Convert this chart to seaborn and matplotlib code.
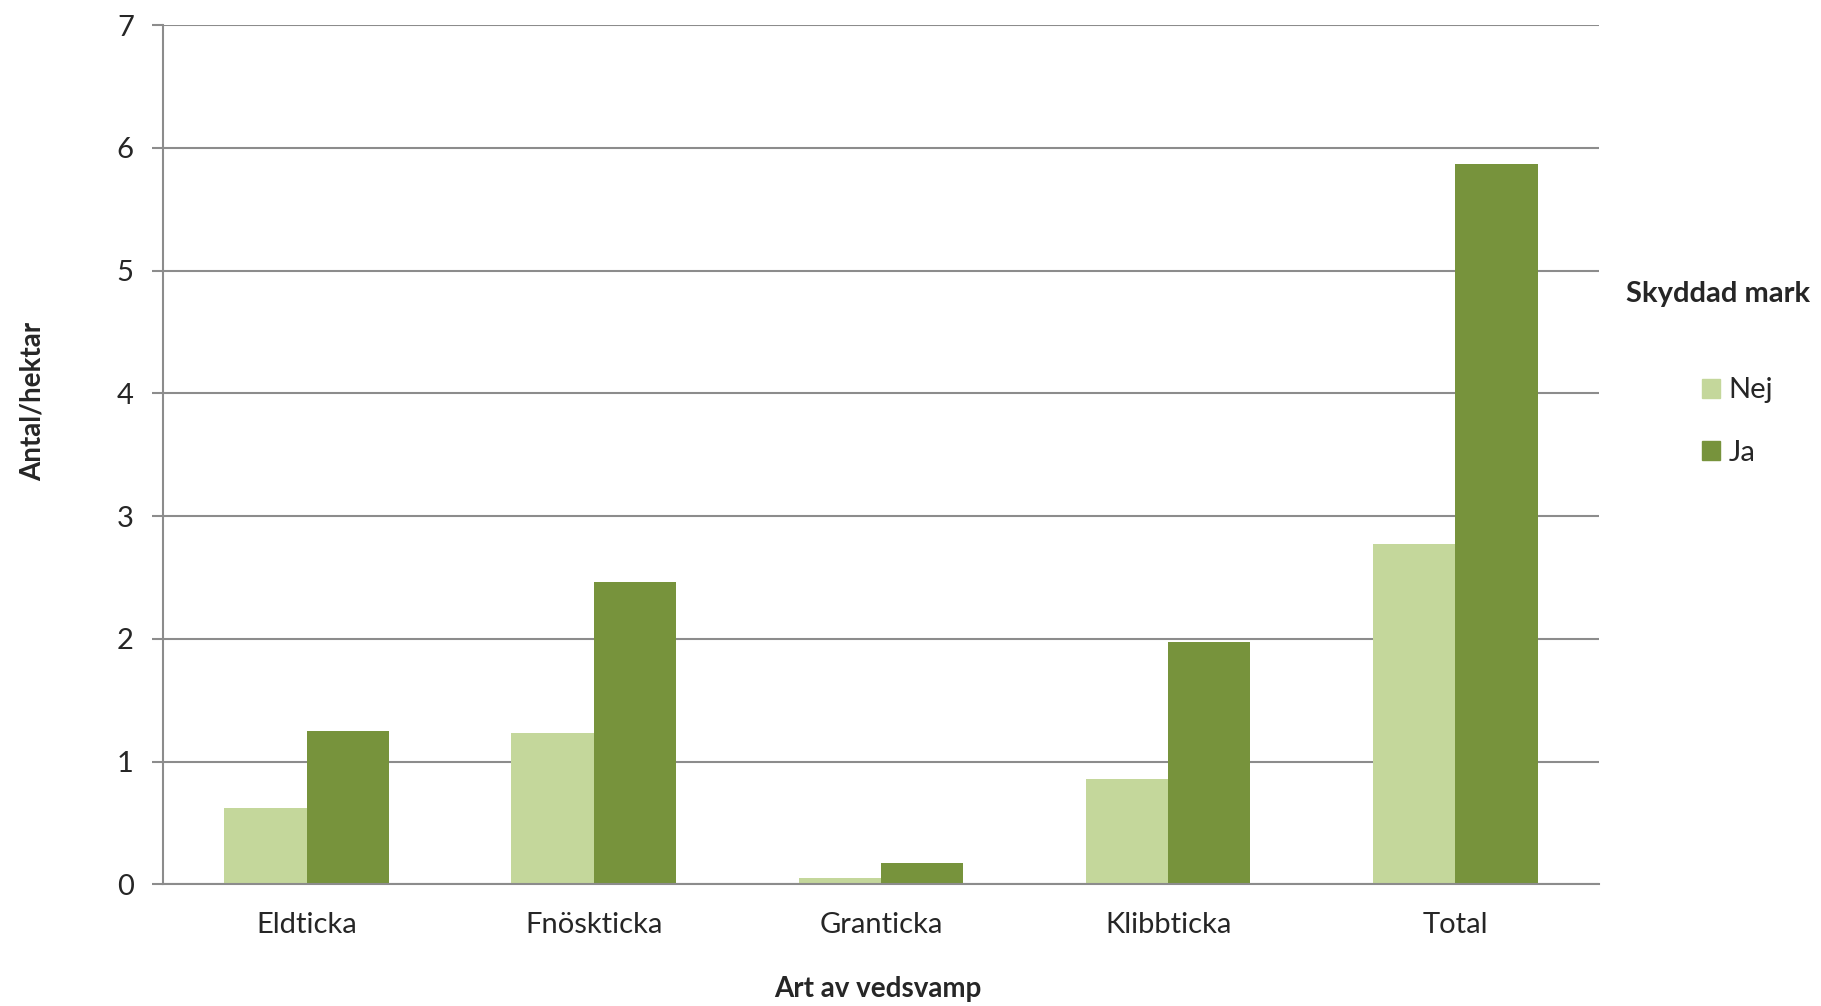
import pandas as pd
import matplotlib.pyplot as plt
import seaborn as sns

# Data
species = ['Eldticka', 'Fnöskticka', 'Granticka', 'Klibbticka', 'Total']
nej_values = [0.62, 1.23, 0.05, 0.86, 2.77]
ja_values = [1.25, 2.46, 0.17, 1.97, 5.87]
hue_labels = ['Nej', 'Ja']
y_ticks = [0, 1, 2, 3, 4, 5, 6, 7]

colors = {'Nej': '#C4D79B', 'Ja': '#77933C'}
grid_col = '#8C8C8C'


def build_frame():
    rows = []
    for s, n, j in zip(species, nej_values, ja_values):
        rows.append({'Art': s, 'Skyddad mark': 'Nej', 'Antal': n})
        rows.append({'Art': s, 'Skyddad mark': 'Ja', 'Antal': j})
    return pd.DataFrame(rows)


def main():
    sns.set_style('white')
    plt.rcParams['font.family'] = ['Lato', 'DejaVu Sans']

    df = build_frame()
    fig = plt.figure(figsize=(18.21, 10.06), dpi=100)
    ax = fig.add_axes([0.0895, 0.121, 0.7885, 0.854])

    sns.barplot(data=df, x='Art', y='Antal', hue='Skyddad mark',
                hue_order=hue_labels, palette=colors, width=0.573,
                saturation=1, linewidth=0, errorbar=None, ax=ax, legend=False)

    ax.set_xlim(-0.5, len(species) - 0.5)
    ax.set_ylim(0, 7)
    ax.set_yticks(y_ticks)
    ax.set_yticklabels([str(t) for t in y_ticks], fontsize=21)
    ax.yaxis.grid(True, color=grid_col, linewidth=1.5)
    ax.set_axisbelow(True)

    # category boundary ticks on the x axis
    ax.set_xticks([i - 0.5 for i in range(len(species) + 1)], minor=True)
    ax.tick_params(axis='x', which='major', length=0, pad=20, labelsize=21)
    ax.tick_params(axis='x', which='minor', length=9, width=1.5, color=grid_col,
                   direction='out')
    ax.tick_params(axis='y', length=8, width=1.5, color=grid_col, pad=13,
                   direction='out', left=True)

    for side in ['top', 'right']:
        ax.spines[side].set_visible(False)
    for side in ['left', 'bottom']:
        ax.spines[side].set_color(grid_col)
        ax.spines[side].set_linewidth(1.5)

    ax.set_xlabel('')
    ax.set_ylabel('')
    fig.text(0.482, 0.017, 'Art av vedsvamp', fontsize=20, fontweight='bold',
             ha='center', va='center')
    fig.text(0.018, 0.601, 'Antal/hektar', fontsize=20, fontweight='bold',
             ha='center', va='center', rotation=90)

    # legend
    handles = [plt.Rectangle((0, 0), 1, 1, color=colors[h]) for h in hue_labels]
    fig.legend(handles, hue_labels, loc='upper left',
               bbox_to_anchor=(0.92, 0.651), frameon=False, fontsize=21,
               handlelength=0.62, handleheight=0.62, handletextpad=0.3,
               labelspacing=1.25)
    fig.text(0.893, 0.708, 'Skyddad mark', fontsize=21, fontweight='bold',
             ha='left', va='center')

    fig.savefig('out.png', dpi=100)


if __name__ == '__main__':
    main()
